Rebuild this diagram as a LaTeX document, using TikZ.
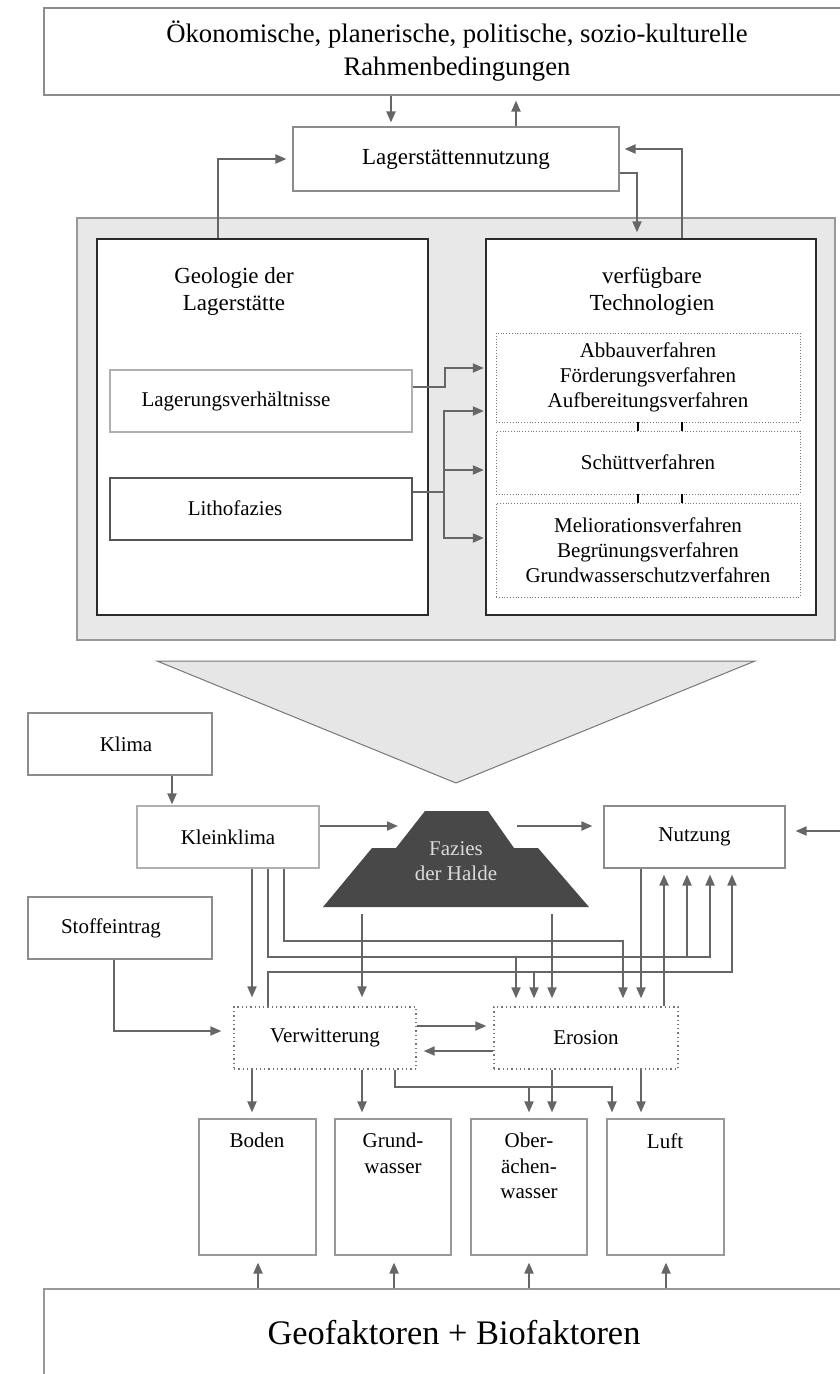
\documentclass[tikz,border=0pt]{standalone}
\usepackage{fontspec}
\setmainfont{Liberation Serif}
\usetikzlibrary{arrows.meta,calc}
\definecolor{arrgray}{HTML}{666666}
\definecolor{boxgray}{HTML}{8C8C8C}
\definecolor{lightbox}{HTML}{B0B0B0}
\definecolor{midbox}{HTML}{555555}
\definecolor{darkline}{HTML}{2B2B2B}
\definecolor{panelfill}{HTML}{E8E8E8}
\definecolor{panelline}{HTML}{999999}
\definecolor{trifill}{HTML}{E6E6E6}
\definecolor{triline}{HTML}{777777}
\definecolor{haldefill}{HTML}{484848}
\definecolor{haldetext}{HTML}{DADADA}
\definecolor{dotgray}{HTML}{777777}
\newcommand\bx[7]{\node[#6,minimum width={#4-#2},minimum height={#5-#3}] (#1) at ({(#2+#4)/2},{(#3+#5)/2}) {#7};}
\begin{document}
\begin{tikzpicture}[x=1pt,y=-1pt,
  box/.style={draw=boxgray,line width=1.1pt,inner sep=0pt,fill=white,align=center,font=\fontsize{21}{25}\selectfont},
  darkbox/.style={draw=darkline,line width=1.3pt,inner sep=0pt,fill=white},
  dotbox/.style={draw=dotgray,dotted,line width=0.8pt,inner sep=0pt,align=center,font=\fontsize{21}{25}\selectfont},
  dotbox2/.style={draw=dotgray,line width=1.3pt,dash pattern=on 1.3pt off 3pt,inner sep=0pt,fill=white,align=center,font=\fontsize{21}{25}\selectfont},
  txt/.style={inner sep=0pt,align=center,font=\fontsize{21}{25}\selectfont},
  hdr/.style={inner sep=0pt,align=center,font=\fontsize{23}{27}\selectfont},
  ln/.style={draw=arrgray,line width=1.9pt},
  arr/.style={draw=arrgray,line width=1.9pt,-{Triangle[length=11pt,width=9pt]},shorten >=5pt},
  conn/.style={draw=black,line width=1.6pt}]
\useasboundingbox (0,0) rectangle (840,1374);
\clip (0,0) rectangle (840,1374);

% ---------- upper part ----------
\bx{top}{44}{8}{870}{95}{box,font=\fontsize{26.7}{33}\selectfont}{Ökonomische, planerische, politische, sozio-kulturelle\\Rahmenbedingungen}
\bx{lager}{293}{127}{619}{191}{box,font=\fontsize{23}{27}\selectfont}{Lagerstättennutzung}
\bx{panel}{77}{218}{835}{640}{draw=panelline,fill=panelfill,line width=1.1pt,inner sep=0pt}{}
\bx{geo}{97}{239}{428}{615}{darkbox}{}
\node[hdr] (geotext) at (234,291) {Geologie der\\Lagerstätte};
\bx{tech}{486}{239}{816}{615}{darkbox}{}
\node[hdr] (techtext) at (652,291) {verfügbare\\Technologien};
\bx{abbau}{496}{333}{800}{422}{dotbox}{Abbauverfahren\\Förderungsverfahren\\Aufbereitungsverfahren}
\bx{schuett}{496}{431}{800}{494}{dotbox}{Schüttverfahren}
\bx{melio}{496}{503}{800}{597}{dotbox}{Meliorationsverfahren\\Begrünungsverfahren\\Grundwasserschutzverfahren}
\bx{lagerung}{110}{370}{412}{432}{box,draw=lightbox}{}
\node[txt] (lagerungtext) at (236,401) {Lagerungsverhältnisse};
\bx{litho}{110}{478}{412}{540}{box,draw=midbox,line width=1.4pt}{}
\node[txt] (lithotext) at (235,508) {Lithofazies};

\draw[conn] (abbau.south -| 638,0) -- (schuett.north -| 638,0);
\draw[conn] (abbau.south -| 682,0) -- (schuett.north -| 682,0);
\draw[conn] (schuett.south -| 638,0) -- (melio.north -| 638,0);
\draw[conn] (schuett.south -| 682,0) -- (melio.north -| 682,0);

\draw[arr,shorten >=4pt] (top.south -| 391,0) -- (lager.north -| 391,0);
\draw[arr] (lager.north -| 516,0) -- (top.south -| 516,0);
\draw[arr,shorten >=6pt] (geo.north -| 218,0) |- (lager.west);
\draw[arr,shorten >=6pt] (lager.east |- 0,173) -| (tech.north -| 637,0);
\draw[arr] (tech.north -| 682,0) |- (lager.east |- 0,149);
\draw[arr,shorten >=1.5pt] (lagerung.east |- 0,387) -- (445,387) |- (tech.west |- 0,368);
\draw[arr,shorten >=1.5pt] (litho.east |- 0,492) -- (444,492) |- (tech.west |- 0,411);
\draw[arr,shorten >=1.5pt] (444,492) |- (tech.west |- 0,470);
\draw[arr,shorten >=1.5pt] (444,492) |- (tech.west |- 0,538);

% ---------- middle ----------
\fill[trifill,draw=triline,line width=1pt] (157,661) -- (755,661) -- (456,783) -- cycle;
\fill[haldefill] (425,811) -- (488,811) -- (514,848) -- (538,848) -- (589,907) -- (323,907) -- (372,848) -- (396,848) -- cycle;
\node[txt,text=haldetext] (halde) at (456,861) {Fazies\\der Halde};
\coordinate (haldeW) at (398,826);
\coordinate (haldeE) at (517,826);
\coordinate (haldeS1) at (362,914);
\coordinate (haldeS2) at (552,914);
\coordinate (extR) at (850,831);

\bx{klima}{28}{713}{212}{775}{box}{}
\node[txt] (klimatext) at (126,744) {Klima};
\bx{kk}{137}{806}{319}{868}{box,draw=lightbox}{Kleinklima}
\bx{nutz}{604}{806}{785}{868}{box}{Nutzung}
\bx{stoff}{28}{897}{212}{959}{box}{}
\node[txt] (stofftext) at (111,928) {Stoffeintrag};
\bx{verw}{234}{1007}{416}{1069}{dotbox2}{Verwitterung}
\bx{eros}{494}{1007}{678}{1069}{dotbox2}{Erosion}

\draw[arr,shorten >=1pt] (klima.south -| 172,0) -- (kk.north -| 172,0);
\draw[arr,shorten >=0pt] (kk.east |- haldeW) -- (haldeW);
\draw[arr,shorten >=11pt] (haldeE) -- (nutz.west |- haldeE);
\draw[arr,shorten >=10pt] (extR) -- (nutz.east |- extR);
\draw[arr,shorten >=12pt] (stoff.south -| 114,0) |- (verw.west |- 0,1031);

\draw[arr,shorten >=9pt] (kk.south -| 252,0) -- (verw.north -| 252,0);
\draw[arr,shorten >=9pt] (haldeS1) -- (verw.north -| haldeS1);
\draw[arr,shorten >=8pt] (kk.south -| 284,0) |- (623,941) -- (eros.north -| 623,0);
\draw[arr,shorten >=6pt] (kk.south -| 268,0) |- (710,957) -- (nutz.south -| 710,0);
\draw[arr,shorten >=8pt] (516,957) -- (eros.north -| 516,0);
\draw[arr,shorten >=6pt] (687,957) -- (nutz.south -| 687,0);
\draw[arr,shorten >=6pt] (verw.north -| 268,0) |- (732,972) -- (nutz.south -| 732,0);
\draw[arr,shorten >=8pt] (534,972) -- (eros.north -| 534,0);
\draw[arr,shorten >=8pt] (haldeS2) -- (eros.north -| haldeS2);
\draw[arr,shorten >=8pt] (nutz.south -| 641,0) -- (eros.north -| 641,0);
\draw[arr,shorten >=6pt] (eros.north -| 664,0) -- (nutz.south -| 664,0);
\draw[arr,shorten >=7pt] (verw.east |- 0,1026) -- (eros.west |- 0,1026);
\draw[arr,shorten >=7pt] (eros.west |- 0,1051) -- (verw.east |- 0,1051);

% ---------- bottom ----------
\bx{boden}{199}{1119}{316}{1255}{box,draw=panelline}{}
\bx{grund}{335}{1119}{451}{1255}{box,draw=panelline}{}
\bx{ober}{471}{1119}{587}{1255}{box,draw=panelline}{}
\bx{luft}{607}{1119}{724}{1255}{box,draw=panelline}{}
\node[txt,anchor=north] (bodentext) at (257,1133) {Boden};
\node[txt,anchor=north,font=\fontsize{21}{25.5}\selectfont] (grundtext) at (393,1133) {Grund-\\wasser};
\node[txt,anchor=north,font=\fontsize{21}{25.5}\selectfont] (obertext) at (529,1133) {Ober-\\ächen-\\wasser};
\node[txt,anchor=north] (lufttext) at (665,1133) {Luft};

\bx{geobio}{44}{1289}{870}{1420}{box,draw=panelline}{}
\node[inner sep=0pt,font=\fontsize{34.4}{40}\selectfont] (geobiotext) at (454,1333) {Geofaktoren + Biofaktoren};

\draw[arr,shorten >=6pt] (verw.south -| 252,0) -- (boden.north -| 252,0);
\draw[arr,shorten >=6pt] (verw.south -| 362,0) -- (grund.north -| 362,0);
\draw[arr,shorten >=6pt] (verw.south -| 395,0) |- (612,1087) -- (luft.north -| 612,0);
\draw[arr,shorten >=6pt] (529,1087) -- (ober.north -| 529,0);
\draw[arr,shorten >=6pt] (eros.south -| 552,0) -- (ober.north -| 552,0);
\draw[arr,shorten >=6pt] (eros.south -| 641,0) -- (luft.north -| 641,0);

\draw[arr,shorten >=7pt] (geobio.north -| 258,0) -- (boden.south -| 258,0);
\draw[arr,shorten >=7pt] (geobio.north -| 394,0) -- (grund.south -| 394,0);
\draw[arr,shorten >=7pt] (geobio.north -| 529,0) -- (ober.south -| 529,0);
\draw[arr,shorten >=7pt] (geobio.north -| 666,0) -- (luft.south -| 666,0);
\end{tikzpicture}
\end{document}
